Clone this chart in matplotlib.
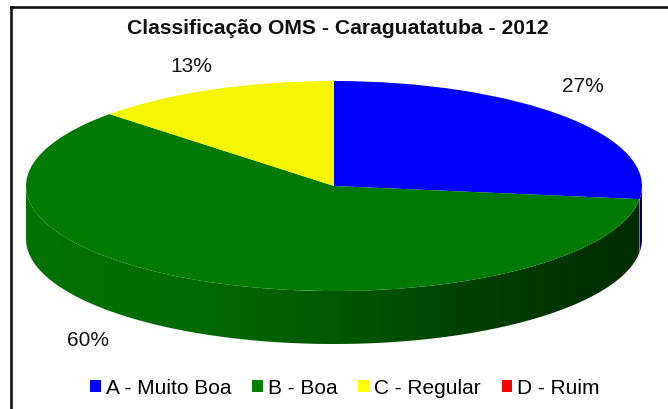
import numpy as np
import matplotlib
matplotlib.use("Agg")
import matplotlib.pyplot as plt
from matplotlib.patches import Polygon, Patch
from matplotlib.lines import Line2D
from matplotlib.colors import to_rgb

plt.rcParams['font.family'] = ['Liberation Sans', 'DejaVu Sans']

# ---- data ----
title = "Classificação OMS - Caraguatatuba - 2012"
categories = ["A - Muito Boa", "B - Boa", "C - Regular", "D - Ruim"]
values = [27, 60, 13, 0]
top_colors = ["#0000FF", "#007A00", "#F5F500", "#FF0000"]
legend_colors = ["#0000FF", "#008000", "#FFFF00", "#FF0000"]

# ---- layout (pixels) ----
W, H = 668, 409
cx, cy = 334, 186       # centre of top ellipse
rx, ry = 308, 105       # radii of top ellipse
depth = 53              # thickness of the pie

fig = plt.figure(figsize=(W / 100, H / 100), dpi=100)
ax = fig.add_axes([0, 0, 1, 1])

wedges, _ = ax.pie(values, colors=top_colors, startangle=90, counterclock=False,
                   radius=1.0, center=(0, 0),
                   wedgeprops=dict(linewidth=0, antialiased=True))
for w in wedges:
    w.set_zorder(3)

d = depth / ry
shade_x = [-1.0, -0.43, 0.0, 0.54, 1.0]
shade_f = [0.93, 0.87, 0.72, 0.50, 0.36]

# side walls (front half, angles -180..0) with smooth horizontal shading
total = float(sum(values))
cum = 0.0
for v, c in zip(values, top_colors):
    if v <= 0:
        continue
    t_hi = 90 - 360 * cum / total
    t_lo = 90 - 360 * (cum + v) / total
    cum += v
    for shift in (0, 360, -360):
        a, b = max(t_lo + shift, -180), min(t_hi + shift, 0)
        if b <= a:
            continue
        th = np.radians(np.linspace(a, b, 200))
        top = np.column_stack([np.cos(th), np.sin(th)])
        bot = np.column_stack([np.cos(th[::-1]), np.sin(th[::-1]) - d])
        poly = Polygon(np.vstack([top, bot]), closed=True, facecolor='none',
                       edgecolor='none', transform=ax.transData)
        ax.add_patch(poly)
        xmin, xmax = np.cos(th).min(), np.cos(th).max()
        xs = np.linspace(xmin, xmax, 400)
        f = np.interp(xs, shade_x, shade_f)
        base = np.array(to_rgb(c))
        img = (f[:, None] * base[None, :])[None, :, :]
        im = ax.imshow(img, extent=(xmin, xmax, -1 - d - 0.05, 0.05), aspect='auto',
                       interpolation='bilinear', zorder=1, origin='lower')
        im.set_clip_path(poly)

ax.set_aspect('auto')
ax.set_xlim(-cx / rx, (W - cx) / rx)
ax.set_ylim((cy - H) / ry, cy / ry)
ax.axis('off')

# percentage labels
label_pos = {0: (583, 87), 1: (88, 340), 2: (191, 66)}
for i, v in enumerate(values):
    if v <= 0:
        continue
    px, py = label_pos[i]
    ax.text((px - cx) / rx, (cy - py) / ry, f"{v}%", ha='center', va='center',
            fontsize=15, color='#111111', zorder=5)

# title
fig.text(338 / W, 1 - 28 / H, title, ha='center', va='center',
         fontsize=15.2, fontweight='bold', color='#111111')

# legend
handles = [Patch(facecolor=c, edgecolor='none') for c in legend_colors]
fig.legend(handles, categories, loc='center', bbox_to_anchor=(345 / W, 1 - 388 / H),
           ncol=4, frameon=False, fontsize=15, handlelength=0.5, handleheight=0.5,
           handletextpad=0.25, columnspacing=1.0, borderpad=0, borderaxespad=0)

# outer frame (top and left visible)
fig.add_artist(Line2D([11 / W, 11 / W], [0, 1 - 7 / H], color='#111111', lw=1.9,
                      transform=fig.transFigure, solid_capstyle='projecting'))
fig.add_artist(Line2D([11 / W, 1], [1 - 7 / H, 1 - 7 / H], color='#111111', lw=1.9,
                      transform=fig.transFigure, solid_capstyle='projecting'))

fig.savefig("out.png", dpi=100)
